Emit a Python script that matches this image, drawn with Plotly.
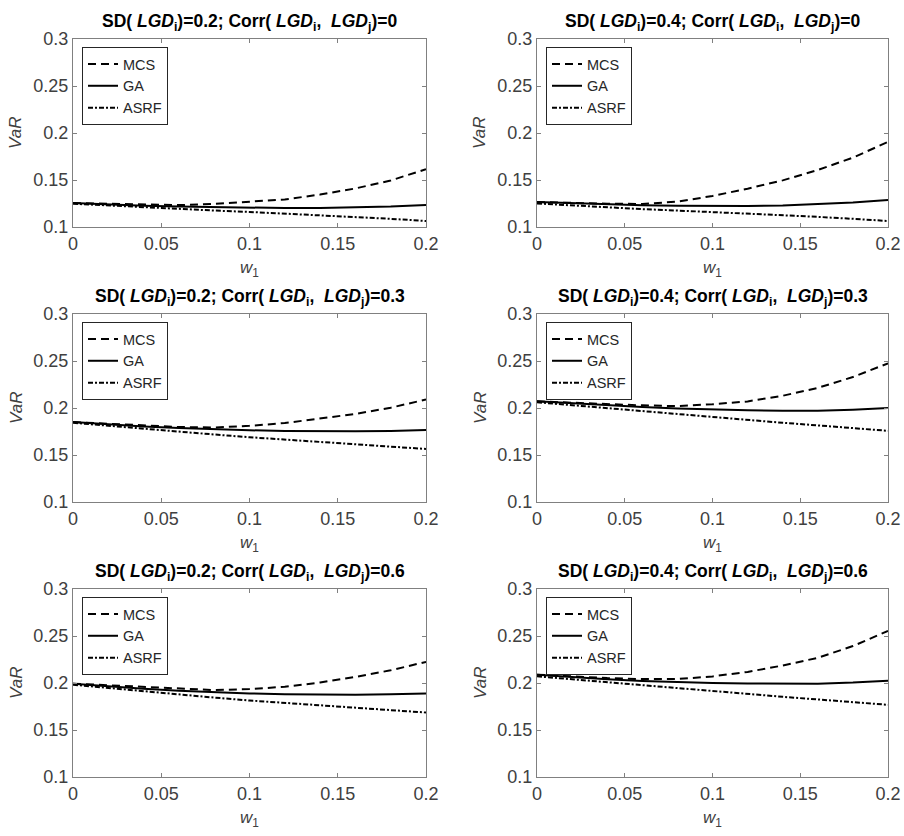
import plotly.graph_objects as go

w1 = [0.0, 0.02, 0.04, 0.06, 0.08, 0.10, 0.12, 0.14, 0.16, 0.18, 0.20]

# Panel 1: SD=0.2, Corr=0
mcs_1 = [0.1255, 0.1245, 0.1237, 0.1233, 0.1245, 0.1265, 0.1293, 0.1345, 0.1410, 0.1495, 0.1615]
ga_1 = [0.1255, 0.1238, 0.1226, 0.1217, 0.1210, 0.1205, 0.1202, 0.1203, 0.1208, 0.1218, 0.1235]
asrf_1 = [0.1248, 0.1228, 0.1208, 0.1190, 0.1175, 0.1160, 0.1143, 0.1126, 0.1108, 0.1087, 0.1064]
# Panel 2: SD=0.4, Corr=0
mcs_2 = [0.1266, 0.1255, 0.1248, 0.1245, 0.1270, 0.1330, 0.1408, 0.1496, 0.1606, 0.1738, 0.1905]
ga_2 = [0.1266, 0.1252, 0.1240, 0.1232, 0.1226, 0.1223, 0.1224, 0.1230, 0.1242, 0.1260, 0.1287]
asrf_2 = [0.1250, 0.1229, 0.1208, 0.1190, 0.1175, 0.1160, 0.1143, 0.1126, 0.1108, 0.1087, 0.1064]
# Panel 3: SD=0.2, Corr=0.3
mcs_3 = [0.1850, 0.1830, 0.1812, 0.1798, 0.1792, 0.1810, 0.1840, 0.1885, 0.1937, 0.2003, 0.2090]
ga_3 = [0.1850, 0.1824, 0.1803, 0.1786, 0.1773, 0.1763, 0.1756, 0.1752, 0.1752, 0.1756, 0.1765]
asrf_3 = [0.1843, 0.1810, 0.1778, 0.1748, 0.1718, 0.1689, 0.1663, 0.1638, 0.1613, 0.1589, 0.1564]
# Panel 4: SD=0.4, Corr=0.3
mcs_4 = [0.2071, 0.2055, 0.2040, 0.2028, 0.2020, 0.2040, 0.2070, 0.2130, 0.2214, 0.2329, 0.2475]
ga_4 = [0.2071, 0.2048, 0.2028, 0.2010, 0.1995, 0.1983, 0.1975, 0.1971, 0.1972, 0.1982, 0.2000]
asrf_4 = [0.2061, 0.2029, 0.1997, 0.1966, 0.1932, 0.1900, 0.1871, 0.1843, 0.1815, 0.1786, 0.1757]
# Panel 5: SD=0.2, Corr=0.6
mcs_5 = [0.1993, 0.1975, 0.1955, 0.1940, 0.1925, 0.1935, 0.1960, 0.2005, 0.2065, 0.2135, 0.2225]
ga_5 = [0.1993, 0.1962, 0.1938, 0.1918, 0.1902, 0.1889, 0.1880, 0.1875, 0.1875, 0.1880, 0.1889]
asrf_5 = [0.1982, 0.1946, 0.1910, 0.1877, 0.1845, 0.1814, 0.1788, 0.1762, 0.1737, 0.1711, 0.1686]
# Panel 6: SD=0.4, Corr=0.6
mcs_6 = [0.2089, 0.2070, 0.2052, 0.2042, 0.2042, 0.2070, 0.2118, 0.2186, 0.2268, 0.2393, 0.2554]
ga_6 = [0.2089, 0.2062, 0.2040, 0.2022, 0.2009, 0.2000, 0.1994, 0.1991, 0.1993, 0.2004, 0.2025]
asrf_6 = [0.2071, 0.2039, 0.2005, 0.1973, 0.1942, 0.1911, 0.1882, 0.1853, 0.1825, 0.1796, 0.1768]

sd_values = ["0.2", "0.4", "0.2", "0.4", "0.2", "0.4"]
corr_values = ["0", "0", "0.3", "0.3", "0.6", "0.6"]
series_names = ["MCS", "GA", "ASRF"]
x_tickvals = [0, 0.05, 0.1, 0.15, 0.2]
x_ticktext = ["0", "0.05", "0.1", "0.15", "0.2"]
y_tickvals = [0.1, 0.15, 0.2, 0.25, 0.3]
y_ticktext = ["0.1", "0.15", "0.2", "0.25", "0.3"]

panels = [
    (mcs_1, ga_1, asrf_1), (mcs_2, ga_2, asrf_2),
    (mcs_3, ga_3, asrf_3), (mcs_4, ga_4, asrf_4),
    (mcs_5, ga_5, asrf_5), (mcs_6, ga_6, asrf_6),
]

W, H = 904, 836
col_px = [(73, 426), (537, 888)]
row_px = [(39, 227), (314, 502), (589, 777)]

FONT = "Liberation Sans, Arial, sans-serif"
TXT = "#262626"
dashes = ["8px,5px", "solid", "5px,2px,2px,2px"]

fig = go.Figure()
layout = dict(
    template="none",
    width=W, height=H, margin=dict(l=0, r=0, t=0, b=0, autoexpand=False),
    plot_bgcolor="white", paper_bgcolor="white",
    font=dict(family=FONT, color=TXT),
    annotations=[],
)

for i, (series) in enumerate(panels):
    r, c = divmod(i, 2)
    x0, x1 = col_px[c]
    y0, y1 = row_px[r]
    xa = "xaxis" if i == 0 else f"xaxis{i+1}"
    ya = "yaxis" if i == 0 else f"yaxis{i+1}"
    xr = "x" if i == 0 else f"x{i+1}"
    yr = "y" if i == 0 else f"y{i+1}"
    lg = "legend" if i == 0 else f"legend{i+1}"
    axcommon = dict(showgrid=False, zeroline=False, showline=True, mirror="ticks",
                    automargin=False,
                    linecolor="#808080", linewidth=1, ticks="inside", ticklen=4,
                    tickcolor="#808080", tickfont=dict(family=FONT, size=18, color="#404040"))
    layout[xa] = dict(domain=[x0 / W, x1 / W], range=[0, 0.2], anchor=yr,
                      tickvals=x_tickvals, ticktext=x_ticktext, **axcommon)
    layout[ya] = dict(domain=[1 - y1 / H, 1 - y0 / H], range=[0.1, 0.3], anchor=xr,
                      tickvals=y_tickvals, ticktext=y_ticktext, **axcommon)
    for name, ys, dsh in zip(series_names, series, dashes):
        fig.add_trace(go.Scatter(x=w1, y=ys, mode="lines", name=name,
                                 line=dict(color="black", width=2, dash=dsh),
                                 xaxis=xr, yaxis=yr, legend=lg))
    layout[lg] = dict(x=(x0 + 9) / W, y=1 - (y0 + 8) / H, xanchor="left", yanchor="top",
                      bordercolor="#262626", borderwidth=1, bgcolor="white",
                      font=dict(family=FONT, size=14.5, color=TXT),
                      tracegroupgap=0, itemwidth=30)
    title = (f"<b>SD( <i>LGD</i><sub>i</sub>)={sd_values[i]}; Corr( <i>LGD</i><sub>i</sub>,"
             f" \u00a0<i>LGD</i><sub>j</sub>)={corr_values[i]}</b>")
    layout["annotations"].append(dict(
        text=title, xref="paper", yref="paper", x=(x0 + x1) / 2 / W, y=1 - (y0 - 3) / H,
        xanchor="center", yanchor="bottom", showarrow=False,
        font=dict(family=FONT, size=17.5, color="black")))
    layout["annotations"].append(dict(
        text="<i>w</i><sub>1</sub>", xref="paper", yref="paper", x=(x0 + x1) / 2 / W,
        y=1 - (y1 + 29) / H, xanchor="center", yanchor="top", showarrow=False,
        font=dict(family=FONT, size=17, color="#404040")))
    layout["annotations"].append(dict(
        text="<i>VaR</i>", xref="paper", yref="paper", x=(x0 - 57) / W,
        y=1 - (y0 + y1) / 2 / H, xanchor="center", yanchor="middle", showarrow=False,
        textangle=-90, font=dict(family=FONT, size=17, color="#404040")))

fig.update_layout(**layout)
# the page's default 8px body margin would offset the 904x836 figure; remove it
fig.write_html("out.html", config={"displayModeBar": False},
               post_script="document.body.style.margin='0';")
